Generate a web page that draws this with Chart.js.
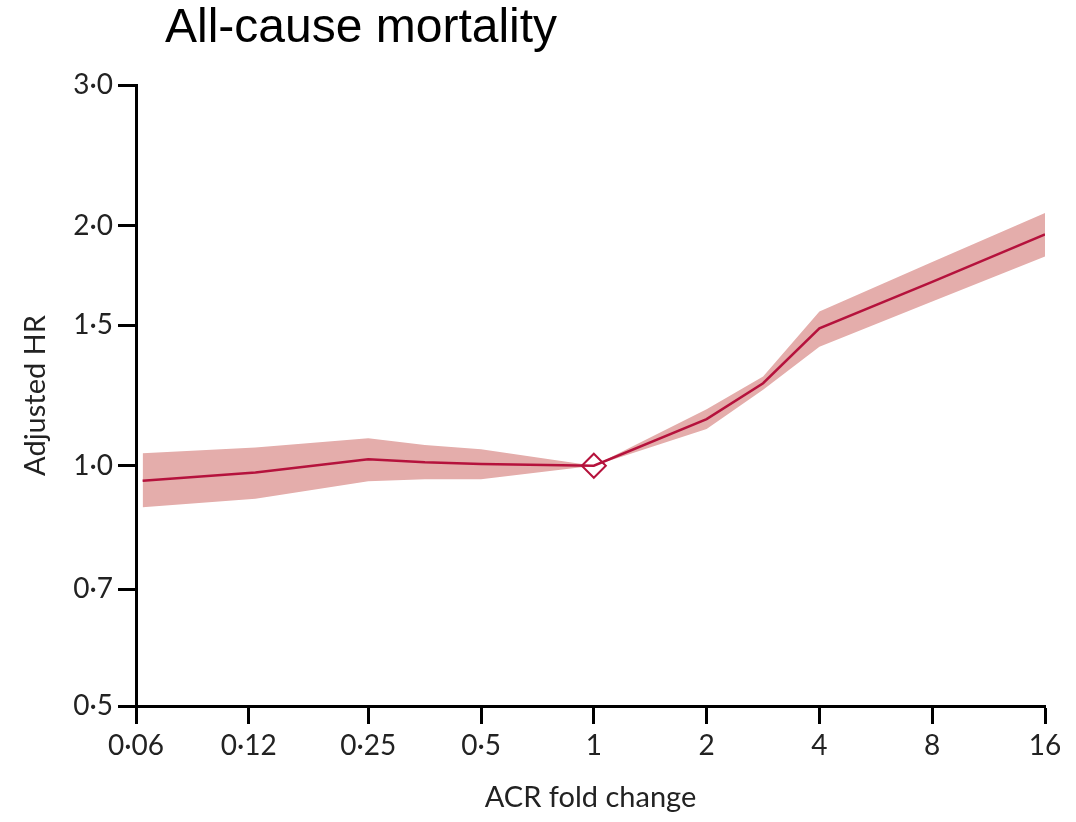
<!DOCTYPE html>
<html>
<head>
<meta charset="utf-8">
<title>All-cause mortality</title>
<script src="https://cdn.jsdelivr.net/npm/chart.js@4.4.1/dist/chart.umd.min.js"></script>
<style>
  html, body { margin: 0; padding: 0; background: #fff; }
  #wrap { width: 1076px; height: 822px; position: relative; }
</style>
</head>
<body>
<div id="wrap"><canvas id="hrChart"></canvas></div>
<script>
// ACR fold change vs adjusted hazard ratio, with 95% CI band
var foldChange = [0.0625, 0.125, 0.25, 0.354, 0.5, 1, 2, 2.83, 4, 8, 16];
var hazardRatio = [0.958, 0.981, 1.019, 1.010, 1.005, 1.0, 1.144, 1.269, 1.487, 1.70, 1.949];
var ciUpper = [1.037, 1.054, 1.083, 1.062, 1.049, 1.0, 1.177, 1.294, 1.561, 1.80, 2.073];
var ciLower = [0.887, 0.909, 0.956, 0.962, 0.962, 1.0, 1.112, 1.245, 1.410, 1.606, 1.829];

var xTickValues = [0.06, 0.12, 0.25, 0.5, 1, 2, 4, 8, 16];
var xTickLabels = ['0·06', '0·12', '0·25', '0·5', '1', '2', '4', '8', '16'];
var yTickValues = [0.5, 0.7, 1.0, 1.5, 2.0, 3.0];

var lineRed = '#B5123C';
var bandRed = '#E4ADAB';
var tickFont = { family: 'Lato, "Open Sans", sans-serif', size: 28 };
var titleFont = { family: 'Lato, "Open Sans", sans-serif', size: 29 };

function pts(ys) {
  return foldChange.map(function (x, i) { return { x: x, y: ys[i] }; });
}

// heading drawn at a fixed spot, left of centre like the original figure
var headingPlugin = {
  id: 'heading',
  afterDraw: function (chart) {
    var c = chart.ctx;
    c.save();
    c.font = '48px "Liberation Sans", Arial, sans-serif';
    c.fillStyle = '#000';
    c.textBaseline = 'alphabetic';
    c.fillText('All-cause mortality', 165, 42);
    c.restore();
  }
};

var ctx = document.getElementById('hrChart');
var hrChart = new Chart(ctx, {
  type: 'line',
  data: {
    datasets: [
      {
        label: 'upper',
        data: pts(ciUpper),
        order: 3,
        borderWidth: 0,
        pointRadius: 0,
        backgroundColor: bandRed,
        fill: '+1'
      },
      {
        label: 'lower',
        data: pts(ciLower),
        order: 4,
        borderWidth: 0,
        pointRadius: 0,
        fill: false
      },
      {
        label: 'Adjusted HR',
        data: pts(hazardRatio),
        order: 1,
        borderColor: lineRed,
        borderWidth: 2.5,
        pointRadius: 0,
        fill: false
      },
      {
        label: 'reference',
        data: [{ x: 1, y: 1 }],
        order: 0,
        showLine: false,
        pointStyle: 'rectRot',
        pointRadius: 12,
        pointBorderWidth: 2,
        pointBorderColor: lineRed,
        pointBackgroundColor: 'rgba(255,255,255,0)'
      }
    ]
  },
  options: {
    responsive: true,
    maintainAspectRatio: false,
    animation: false,
    layout: { padding: { top: 85, right: 31, bottom: 0, left: 0 } },
    plugins: {
      legend: { display: false },
      tooltip: { enabled: false }
    },
    scales: {
      x: {
        type: 'logarithmic',
        min: 0.06,
        max: 16,
        afterBuildTicks: function (scale) {
          scale.ticks = xTickValues.map(function (v) { return { value: v }; });
        },
        afterFit: function (scale) { scale.height = 116; },
        border: { display: true, color: '#000', width: 3 },
        grid: {
          drawOnChartArea: false,
          drawTicks: true,
          tickLength: 18,
          tickWidth: 3,
          tickColor: '#000'
        },
        ticks: {
          autoSkip: false,
          maxRotation: 0,
          padding: 5,
          color: '#222',
          font: tickFont,
          callback: function (v, i) { return xTickLabels[i]; }
        },
        title: {
          display: true,
          text: 'ACR fold change',
          color: '#222',
          font: titleFont,
          padding: { top: 0, bottom: 7 }
        }
      },
      y: {
        type: 'logarithmic',
        min: 0.5,
        max: 3.0,
        afterBuildTicks: function (scale) {
          scale.ticks = yTickValues.map(function (v) { return { value: v }; });
        },
        afterFit: function (scale) { scale.width = 136; },
        border: { display: true, color: '#000', width: 3 },
        grid: {
          drawOnChartArea: false,
          drawTicks: true,
          tickLength: 18,
          tickWidth: 3,
          tickColor: '#000'
        },
        ticks: {
          padding: 5,
          color: '#222',
          font: tickFont,
          callback: function (v) { return Number(v).toFixed(1).replace('.', '·'); }
        },
        title: {
          display: true,
          text: 'Adjusted HR',
          color: '#222',
          font: titleFont,
          padding: { top: 18, bottom: 0 }
        }
      }
    }
  },
  plugins: [headingPlugin]
});
</script>
</body>
</html>
